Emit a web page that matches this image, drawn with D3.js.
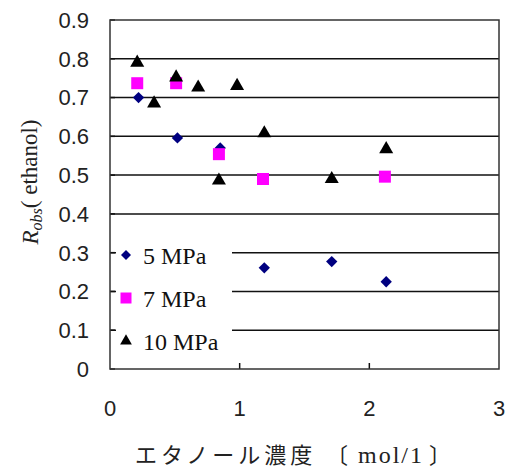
<!DOCTYPE html>
<html>
<head>
<meta charset="utf-8">
<script src="https://cdn.jsdelivr.net/npm/d3@7"></script>
<style>
  body { margin: 0; background: #fff; }
  svg { display: block; }
</style>
</head>
<body>
<svg width="510" height="468"></svg>
<script>
// data
const xTicks = [0, 1, 2, 3];
const yTicks = [0, 0.1, 0.2, 0.3, 0.4, 0.5, 0.6, 0.7, 0.8, 0.9];
const seriesNames = ["5 MPa", "7 MPa", "10 MPa"];

const x5 = [0.22, 0.52, 0.85, 1.19, 1.71, 2.13];
const y5 = [0.70, 0.596, 0.57, 0.261, 0.277, 0.225];

const x7 = [0.21, 0.51, 0.84, 1.18, 2.12];
const y7 = [0.737, 0.737, 0.554, 0.49, 0.496];

const x10 = [0.21, 0.34, 0.51, 0.68, 0.98, 0.84, 1.19, 1.71, 2.13];
const y10 = [0.79, 0.685, 0.752, 0.726, 0.73, 0.486, 0.608, 0.49, 0.567];

const svg = d3.select("svg");
const plotL = 110, plotR = 499, plotT = 20, plotB = 369;

const x = d3.scaleLinear().domain([0, 3]).range([plotL, plotR]);
const y = d3.scaleLinear().domain([0, 0.9]).range([plotB, plotT]);

// gridlines
svg.append("g")
  .selectAll("line")
  .data(yTicks.filter(d => d > 0 && d < 0.9))
  .enter().append("line")
  .attr("x1", plotL).attr("x2", plotR)
  .attr("y1", d => y(d)).attr("y2", d => y(d))
  .style("stroke", "#111")
  .style("stroke-width", 1.5);

// legend box covers the gridlines
const legendG = svg.append("g");
legendG.append("rect")
  .attr("x", 116).attr("y", 228)
  .attr("width", 116).attr("height", 134)
  .style("fill", "#fff");

// inner ticks on the left axis
svg.append("g")
  .selectAll("line")
  .data(yTicks)
  .enter().append("line")
  .attr("x1", plotL).attr("x2", plotL + 5)
  .attr("y1", d => y(d)).attr("y2", d => y(d))
  .style("stroke", "#111")
  .style("stroke-width", 1.5);

// inner ticks on the x axis
svg.append("g")
  .selectAll("line")
  .data(xTicks.filter(d => d > 0 && d < 3))
  .enter().append("line")
  .attr("x1", d => x(d)).attr("x2", d => x(d))
  .attr("y1", plotB).attr("y2", plotB - 6)
  .style("stroke", "#111")
  .style("stroke-width", 1.5);

// frame
svg.append("rect")
  .attr("x", plotL).attr("y", plotT)
  .attr("width", plotR - plotL).attr("height", plotB - plotT)
  .style("fill", "none")
  .style("stroke", "#333")
  .style("stroke-width", 1.5);

// tick labels
svg.append("g")
  .selectAll("text")
  .data(yTicks)
  .enter().append("text")
  .attr("x", 89)
  .attr("y", d => y(d))
  .attr("dy", "0.36em")
  .attr("text-anchor", "end")
  .style("font-family", "Liberation Sans, Arial, sans-serif")
  .style("font-size", "22px")
  .style("fill", "#222")
  .text(d => d === 0 ? "0" : d.toFixed(1));

svg.append("g")
  .selectAll("text")
  .data(xTicks)
  .enter().append("text")
  .attr("x", d => x(d))
  .attr("y", 408)
  .attr("dy", "0.36em")
  .attr("text-anchor", "middle")
  .style("font-family", "Liberation Sans, Arial, sans-serif")
  .style("font-size", "22px")
  .style("fill", "#222")
  .text(d => d);

// markers
const diamond = d3.symbol().type(d3.symbolSquare);
const square = d3.symbol().type(d3.symbolSquare);
const triangle = d3.symbol().type(d3.symbolTriangle);

function drawSeries(xs, ys, sym, size, color, rot) {
  svg.append("g")
    .selectAll("path")
    .data(xs.map((v, i) => [v, ys[i]]))
    .enter().append("path")
    .attr("d", sym.size(size)())
    .attr("transform", d => `translate(${x(d[0])},${y(d[1])}) rotate(${rot})`)
    .style("fill", color);
}

drawSeries(x5, y5, diamond, 64, "#000080", 45);
drawSeries(x7, y7, square, 144, "#ff00ff", 0);
drawSeries(x10, y10, triangle, 85, "#000", 0);

// legend
const legendY = [255, 298, 341];
const legendSym = [[diamond, 50, "#000080", 45], [square, 121, "#ff00ff", 0], [triangle, 60, "#000", 0]];
seriesNames.forEach((name, i) => {
  const s = legendSym[i];
  legendG.append("path")
    .attr("d", s[0].size(s[1])())
    .attr("transform", `translate(126,${legendY[i]}) rotate(${s[3]})`)
    .style("fill", s[2]);
  legendG.append("text")
    .attr("x", 143)
    .attr("y", legendY[i])
    .attr("dy", "0.36em")
    .style("font-family", "Liberation Serif, Times New Roman, serif")
    .style("font-size", "24px")
    .style("fill", "#111")
    .text(name);
});

// axis titles
const yLabel = svg.append("text")
  .attr("transform", "translate(30,182) rotate(-90)")
  .attr("text-anchor", "middle")
  .attr("dy", "0.36em")
  .style("font-family", "Liberation Serif, Times New Roman, serif")
  .style("font-size", "23px")
  .style("fill", "#222");
yLabel.append("tspan").style("font-style", "italic").text("R");
yLabel.append("tspan").style("font-style", "italic").style("font-size", "16px").attr("dy", "0.25em").text("obs");
yLabel.append("tspan").attr("dy", "-0.25em").text("( ethanol)");

const xLabel = svg.append("text")
  .attr("y", 455)
  .attr("dy", "0.36em")
  .style("font-size", "22px")
  .style("fill", "#222");
xLabel.append("tspan").attr("x", 135)
  .style("font-family", "Noto Sans CJK JP, sans-serif")
  .style("letter-spacing", "4px")
  .text("エタノール濃度");
xLabel.append("tspan").attr("x", 326)
  .style("font-family", "Noto Sans CJK JP, sans-serif")
  .text("〔");
xLabel.append("tspan").attr("x", 358)
  .style("font-family", "Liberation Serif, Times New Roman, serif")
  .style("font-size", "24px")
  .style("letter-spacing", "2px")
  .text("mol/1");
xLabel.append("tspan").attr("x", 429)
  .style("font-family", "Noto Sans CJK JP, sans-serif")
  .text("〕");
</script>
</body>
</html>
